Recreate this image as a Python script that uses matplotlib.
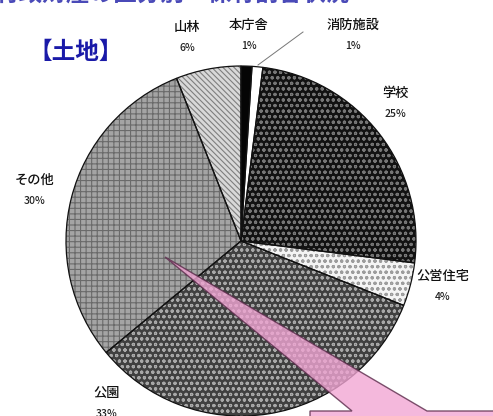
import matplotlib
matplotlib.use("Agg")
import matplotlib.pyplot as plt
from matplotlib.patches import Polygon

plt.rcParams['font.family'] = ['Noto Sans CJK JP', 'DejaVu Sans']
plt.rcParams['hatch.linewidth'] = 0.8

# land holdings by use, clockwise from the top
categories = ["本庁舎", "消防施設", "学校", "公営住宅", "公園", "その他", "山林"]
shares = [1, 1, 25, 4, 33, 30, 6]
pct_labels = ["1%", "1%", "25%", "4%", "33%", "30%", "6%"]

face_colors = ["#050505", "#ffffff", "#121212", "#f4f4f4", "#404040", "#a4a4a4", "#d8d8d8"]
hatch_colors = ["#050505", "#ffffff", "#767676", "#9c9c9c", "#a8a8a8", "#6a6a6a", "#7e7e7e"]
hatches = [None, None, "ooo", "ooo", "ooo", "+++", "\\\\\\\\\\\\"]

W, H = 493, 416


def Y(y):
    # pixel rows counted from the top
    return H - y


fig = plt.figure(figsize=(W / 100, H / 100), dpi=100)
ax = fig.add_axes([0, 0, 1, 1])

center = (241, Y(241))
radius = 175

wedges, _ = ax.pie(shares, startangle=90, counterclock=False,
                   center=center, radius=radius,
                   colors=face_colors, wedgeprops=dict(linewidth=0))
for w, hc, h in zip(wedges, hatch_colors, hatches):
    w.set_edgecolor(hc)
    if h:
        w.set_hatch(h)

# slice outlines on top of the hatching
ax.pie(shares, startangle=90, counterclock=False, center=center, radius=radius,
       wedgeprops=dict(fill=False, edgecolor="#111111", linewidth=0.9))

label_pos = {
    "本庁舎": (249, 25),
    "消防施設": (353, 25),
    "学校": (395, 93),
    "公営住宅": (443, 276),
    "公園": (107, 393),
    "その他": (35, 180),
    "山林": (187, 27),
}
for name, pct in zip(categories, pct_labels):
    x, y = label_pos[name]
    ax.text(x, Y(y), name, ha="center", va="center", fontsize=9.5,
            fontweight="medium", color="#111111")
    ax.text(x, Y(y + 21), pct, ha="center", va="center", fontsize=7.5,
            fontweight="medium", color="#222222")

# leader line for the thin slice
ax.plot([303, 258], [Y(32), Y(65)], color="#777777", linewidth=0.7)

# section heading
ax.text(28, Y(52), "【土地】", ha="left", va="center", fontsize=17,
        fontweight="bold", color="#1a1aa8")
ax.text(-4, Y(-6), "行政財産の区分別・保有割合状況", ha="left", va="center",
        fontsize=17, fontweight="bold", color="#4a4ab8")

# pink callout pointing into the park slice
callout = Polygon([(165, Y(257)), (427, Y(411)), (500, Y(411)), (500, Y(425)),
                   (310, Y(425)), (310, Y(411)), (352, Y(411))],
                  closed=True, facecolor="#f2a6d4", edgecolor="#5a2a4a",
                  linewidth=1.0, alpha=0.8)
ax.add_patch(callout)

ax.set_xlim(0, W)
ax.set_ylim(0, H)
ax.set_aspect("auto")
ax.axis("off")

fig.savefig("out.png", dpi=100)
